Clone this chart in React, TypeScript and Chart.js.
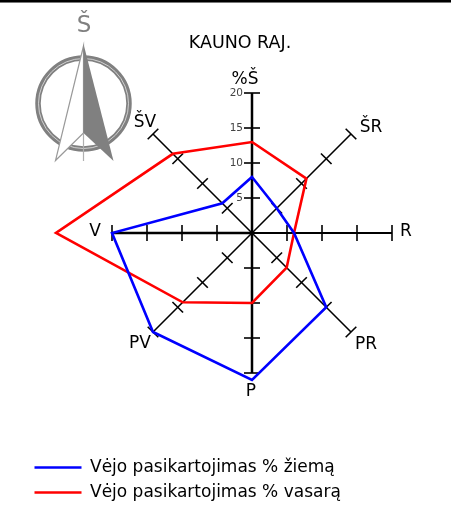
import React, { useEffect, useRef } from "react";
import { Chart, registerables } from "chart.js";

Chart.register(...registerables);

const directions = ["%Š", "ŠR", "R", "PR", "P", "PV", "V", "ŠV"];
const winter = [8, 5, 6, 15, 21, 20, 20, 6];
const summer = [13, 11, 6, 7, 10, 14, 28, 16];
const winterName = "Vėjo pasikartojimas % žiemą";
const summerName = "Vėjo pasikartojimas % vasarą";
const titleText = "KAUNO RAJ.";
const tickValues = [5, 10, 15, 20];
const FONT = "'DejaVu Sans'";
const labelSpots = [
  [245, 80],
  [371, 128],
  [406, 232],
  [366, 345],
  [251, 392],
  [140, 344],
  [95, 232],
  [145, 123],
];
const spokeWidths = [2.5, 1.6, 1.8, 1.6, 2.5, 1.6, 2.4, 1.6];

const decorPlugin = {
  id: "decor",
  afterLayout(chart: any) {
    const t = chart.titleBlock;
    if (t) {
      t.left = 240 - 225;
      t.right = 240 + 225;
      t.top = 33;
    }
    const l = chart.legend;
    if (l) {
      l.left = 26.5;
      l.right = 451;
      l.top = 451;
      l.bottom = 509;
    }
  },
  beforeDraw(chart: any) {
    const c = chart.ctx;
    c.save();
    c.fillStyle = "#000";
    c.fillRect(0, 0, 451, 2);
    c.fillStyle = "#777";
    c.fillRect(0, 2, 451, 1);
    // compass
    const gray = "#808080";
    c.strokeStyle = gray;
    c.lineWidth = 5.5;
    c.beginPath();
    c.arc(83.5, 103.5, 45.5, 0, Math.PI * 2);
    c.stroke();
    c.strokeStyle = "#e4e4e4";
    c.lineWidth = 0.8;
    c.beginPath();
    c.arc(83.5, 103.5, 45, 0, Math.PI * 2);
    c.stroke();
    // white wing
    c.fillStyle = "#fff";
    c.strokeStyle = "#999";
    c.lineWidth = 1.2;
    c.beginPath();
    c.moveTo(83.5, 46);
    c.lineTo(55.5, 160.5);
    c.lineTo(83.5, 133);
    c.closePath();
    c.fill();
    c.stroke();
    // centre needle
    c.strokeStyle = "#b0b0b0";
    c.lineWidth = 1.2;
    c.beginPath();
    c.moveTo(83.5, 133);
    c.lineTo(83.5, 161);
    c.stroke();
    // dark wing
    c.fillStyle = gray;
    c.beginPath();
    c.moveTo(83.5, 44);
    c.lineTo(113.5, 161);
    c.lineTo(83.5, 133);
    c.closePath();
    c.fill();
    c.fillStyle = gray;
    c.font = `23px ${FONT}`;
    c.textAlign = "center";
    c.textBaseline = "middle";
    c.fillText("Š", 84, 26);
    c.restore();
  },
  beforeDatasetsDraw(chart: any) {
    const s = chart.scales.r;
    const c = chart.ctx;
    c.save();
    c.strokeStyle = "#000";
    c.lineWidth = 1.6;
    directions.forEach((_, i) => {
      tickValues.forEach((v) => {
        const p = s.getPointPositionForValue(i, v);
        const dx = p.x - s.xCenter;
        const dy = p.y - s.yCenter;
        const len = Math.hypot(dx, dy) || 1;
        const nx = -dy / len;
        const ny = dx / len;
        const half = i % 2 === 0 ? 8 : 7.5;
        c.beginPath();
        c.moveTo(p.x - nx * half, p.y - ny * half);
        c.lineTo(p.x + nx * half, p.y + ny * half);
        c.stroke();
      });
    });
    c.fillStyle = "#444";
    c.font = `10.5px ${FONT}`;
    c.textAlign = "right";
    c.textBaseline = "middle";
    tickValues.forEach((v) => {
      const p = s.getPointPositionForValue(0, v);
      c.fillText(String(v), p.x - 9, p.y);
    });
    c.fillStyle = "#000";
    c.font = `17px ${FONT}`;
    c.textAlign = "center";
    directions.forEach((d, i) => {
      c.fillText(d, labelSpots[i][0], labelSpots[i][1]);
    });
    c.restore();
  },
};

export default function App() {
  const ref = useRef<HTMLCanvasElement>(null);
  useEffect(() => {
    const chart = new Chart(ref.current as HTMLCanvasElement, {
      type: "radar",
      data: {
        labels: directions,
        datasets: [
          {
            label: winterName,
            data: winter,
            borderColor: "#0000ff",
            backgroundColor: "#0000ff",
            borderWidth: 2.6,
            pointRadius: 0,
            fill: false,
            tension: 0,
            clip: false,
          },
          {
            label: summerName,
            data: summer,
            borderColor: "#ff0000",
            backgroundColor: "#ff0000",
            borderWidth: 2.6,
            pointRadius: 0,
            fill: false,
            tension: 0,
            clip: false,
          },
        ],
      } as any,
      options: {
        responsive: false,
        animation: false,
        layout: { padding: { top: 72, left: 112, right: 59, bottom: 75.2 } },
        scales: {
          r: {
            min: 0,
            max: 20,
            ticks: { stepSize: 5, display: false },
            grid: { display: false },
            pointLabels: { display: false },
            angleLines: {
              display: true,
              color: "#000",
              lineWidth: (ctx: any) => spokeWidths[ctx.index],
            },
          },
        },
        plugins: {
          title: {
            display: true,
            text: titleText,
            color: "#000",
            font: { family: FONT, size: 17.5, weight: "normal" },
            padding: 0,
          },
          tooltip: { enabled: false },
          legend: {
            position: "bottom",
            align: "start",
            labels: {
              usePointStyle: true,
              pointStyle: "line",
              pointStyleWidth: 47,
              padding: 8,
              color: "#000",
              font: { family: FONT, size: 17 },
            },
          },
        },
      } as any,
      plugins: [decorPlugin],
    });
    return () => chart.destroy();
  }, []);
  return (
    <div style={{ position: "absolute", left: 0, top: 0, width: 451, height: 509, background: "#fff" }}>
      <canvas ref={ref} width={451} height={509} style={{ display: "block" }} />
    </div>
  );
}
